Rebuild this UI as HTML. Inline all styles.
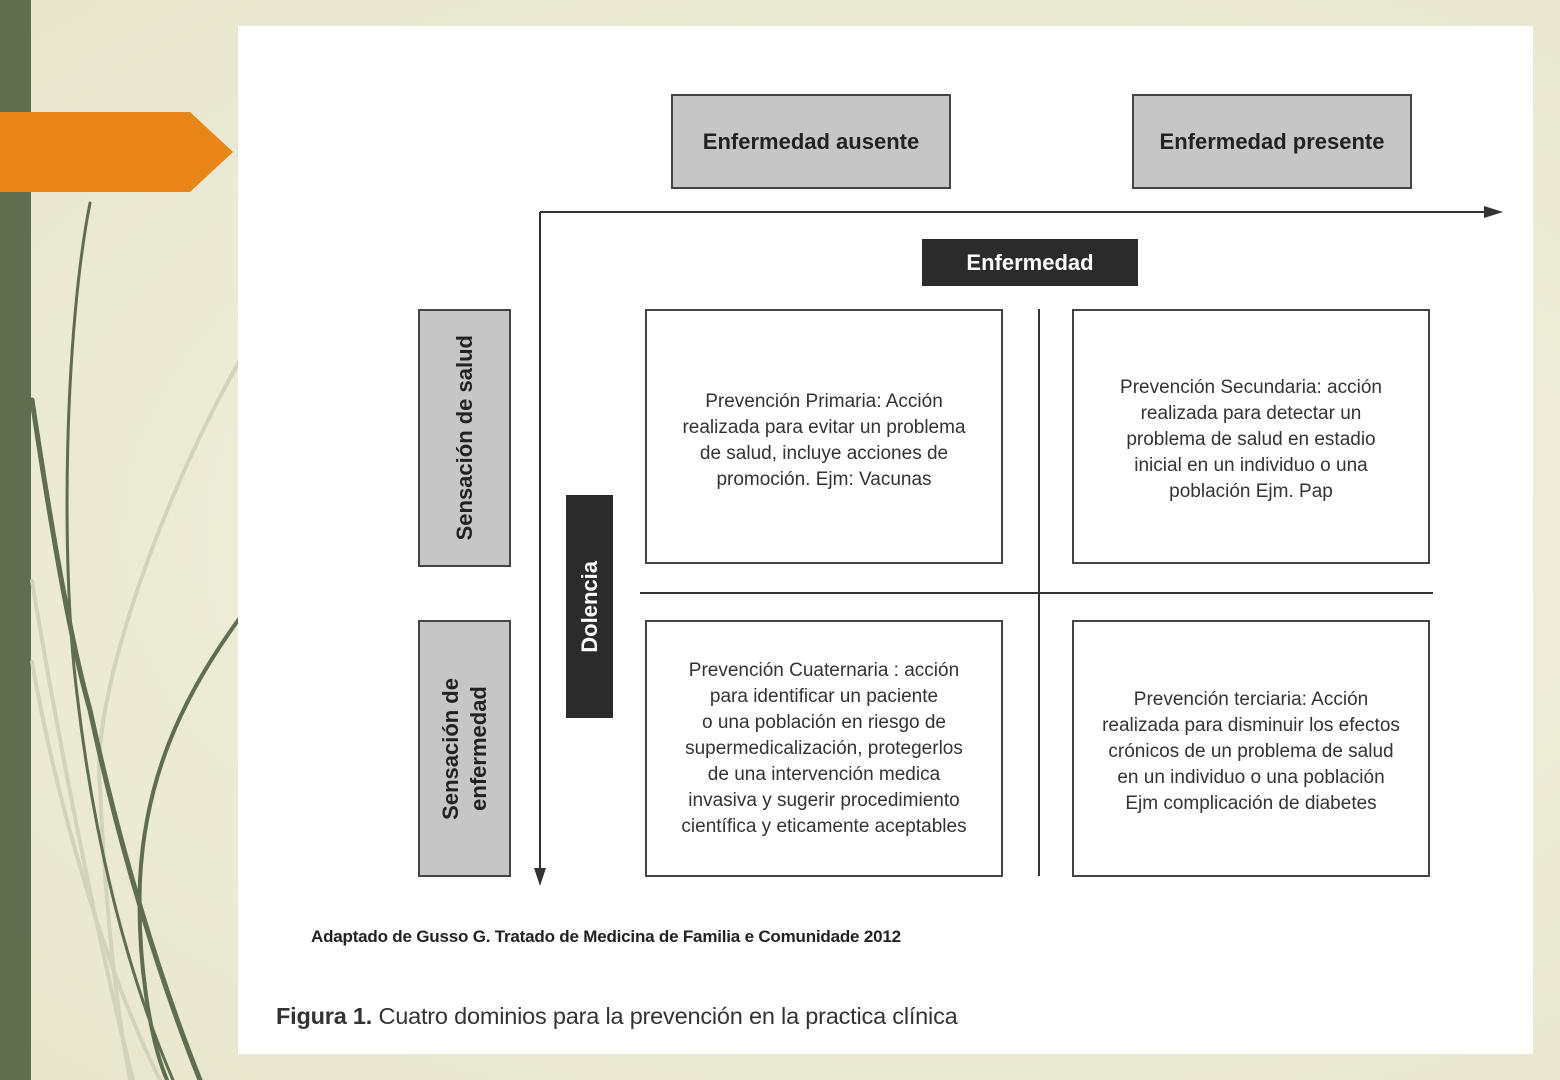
<!DOCTYPE html>
<html><head><meta charset="utf-8"><style>
body{margin:0;width:1560px;height:1080px;overflow:hidden;background:radial-gradient(ellipse at 60% 50%,#f3f2e4,#e8e6cc);font-family:"Liberation Sans",sans-serif;position:relative}
.a{position:absolute;box-sizing:border-box}
.g{background:#c6c6c6;border:2px solid #444;display:flex;align-items:center;justify-content:center;font-weight:bold;font-size:22px;color:#222}
.q{border:2px solid #444;background:#fff;display:flex;align-items:center;justify-content:center;text-align:center;font-size:19px;line-height:26px;color:#333}
.v{writing-mode:vertical-rl;transform:rotate(180deg)}
</style></head><body>
<div class="a" style="left:0;top:0;width:31px;height:1080px;background:#606d4f"></div>
<svg class="a" style="left:0;top:0" width="240" height="1080">
<path d="M0,112 H190 L233,152 L190,192 H0Z" fill="#e8861a"/>
<g fill="none" stroke-linecap="round">
<path d="M239,362 C160,500 90,700 100,787 C105,900 115,1000 130,1080" stroke="#d2d3bb" stroke-width="4"/>
<path d="M32,581 C60,750 100,950 133,1080" stroke="#d2d3bb" stroke-width="4"/>
<path d="M32,662 C60,820 110,980 160,1080" stroke="#d2d3bb" stroke-width="4"/>
<path d="M90,203 C65,330 60,560 77,694 C95,850 130,980 173,1080" stroke="#606d4f" stroke-width="3"/>
<path d="M32,400 C50,520 70,640 90,710 C120,850 160,980 200,1080" stroke="#606d4f" stroke-width="5"/>
<path d="M239,619 C180,700 145,780 140,880 C137,960 150,1040 167,1080" stroke="#606d4f" stroke-width="4"/>
</g></svg>
<div class="a" style="left:238px;top:26px;width:1295px;height:1028px;background:#fff"></div>
<div class="a g" style="left:671px;top:94px;width:280px;height:95px">Enfermedad ausente</div>
<div class="a g" style="left:1132px;top:94px;width:280px;height:95px">Enfermedad presente</div>
<svg class="a" style="left:0;top:0" width="1560" height="1080">
<line x1="540" y1="212" x2="1490" y2="212" stroke="#333" stroke-width="2"/>
<path d="M1503,212 L1484,206 L1484,218Z" fill="#333"/>
<line x1="540" y1="212" x2="540" y2="872" stroke="#333" stroke-width="2"/>
<path d="M540,886 L534,868 L546,868Z" fill="#333"/>
<line x1="1039" y1="309" x2="1039" y2="876" stroke="#333" stroke-width="2"/>
<line x1="640" y1="593" x2="1433" y2="593" stroke="#333" stroke-width="2"/>
</svg>
<div class="a" style="left:922px;top:239px;width:216px;height:47px;background:#2b2b2b;color:#fff;font-weight:bold;font-size:22px;display:flex;align-items:center;justify-content:center">Enfermedad</div>
<div class="a g" style="left:418px;top:309px;width:93px;height:258px"><span class="v">Sensación de salud</span></div>
<div class="a g" style="left:418px;top:620px;width:93px;height:257px;text-align:center;line-height:28px"><span class="v">Sensación de<br>enfermedad</span></div>
<div class="a" style="left:566px;top:495px;width:47px;height:223px;background:#2b2b2b;color:#fff;font-weight:bold;font-size:22px;display:flex;align-items:center;justify-content:center"><span class="v">Dolencia</span></div>
<div class="a q" style="left:645px;top:309px;width:358px;height:255px;padding-top:8px">Prevención Primaria: Acción<br>realizada para evitar un problema<br>de salud, incluye acciones de<br>promoción. Ejm: Vacunas</div>
<div class="a q" style="left:1072px;top:309px;width:358px;height:255px;padding-top:6px">Prevención Secundaria: acción<br>realizada para detectar un<br>problema de salud en estadio<br>inicial en un individuo o una<br>población Ejm. Pap</div>
<div class="a q" style="left:645px;top:620px;width:358px;height:257px">Prevención Cuaternaria : acción<br>para identificar un paciente<br>o una población en riesgo de<br>supermedicalización, protegerlos<br>de una intervención medica<br>invasiva y sugerir procedimiento<br>científica y eticamente aceptables</div>
<div class="a q" style="left:1072px;top:620px;width:358px;height:257px;padding-top:6px">Prevención terciaria: Acción<br>realizada para disminuir los efectos<br>crónicos de un problema de salud<br>en un individuo o una población<br>Ejm complicación de diabetes</div>
<div class="a" style="left:311px;top:927px;font-size:17px;font-weight:bold;color:#222;letter-spacing:-0.2px">Adaptado de Gusso G. Tratado de Medicina de Familia e Comunidade 2012</div>
<div class="a" style="left:276px;top:1003px;font-size:23.5px;color:#333;letter-spacing:-0.2px"><b>Figura 1.</b> Cuatro dominios para la prevención en la practica clínica</div>
</body></html>
